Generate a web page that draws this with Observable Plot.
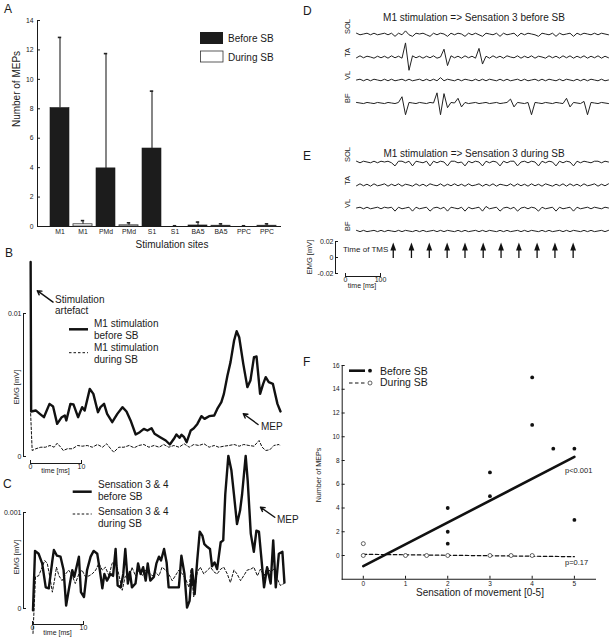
<!DOCTYPE html>
<html><head><meta charset="utf-8">
<script src="https://cdn.jsdelivr.net/npm/d3@7"></script>
<script src="https://cdn.jsdelivr.net/npm/@observablehq/plot@0.6"></script>
<style>
body{margin:0;background:#fff;}
#fig{position:relative;width:613px;height:639px;overflow:hidden;background:#fff;font-family:"Liberation Sans",Arial,Helvetica,sans-serif;color:#1a1a1a;}
</style></head><body><div id="fig"></div>
<script>
// ---------- Panel A: number of MEPs per stimulation site ----------
const sitesA = ["M1","M1","PMd","PMd","S1","S1","BA5","BA5","PPC","PPC"];
const phaseA = ["Before SB","During SB","Before SB","During SB","Before SB","During SB","Before SB","During SB","Before SB","During SB"];
const meanA  = [8.05, 0.15, 3.95, 0.08, 5.3, 0.0, 0.07, 0.05, 0.0, 0.05];
const sdA    = [4.8, 0.25, 7.8, 0.17, 3.9, 0.05, 0.23, 0.13, 0.05, 0.13];
const ticksA = [0, 2, 4, 6, 8, 10, 12, 14];

// ---------- Panel B: M1 stimulation EMG (time ms, EMG in 0.001 mV) ----------
const emgB_before = [[0,13.6],[0.1,3.15],[1.0,3.22],[1.8,2.98],[2.6,2.75],[3.7,3.68],[4.4,3.50],[5.2,2.28],[6.1,2.75],[6.7,2.87],[7.0,2.52],[7.8,3.68],[8.4,3.64],[9.3,2.75],[10.1,3.45],[10.6,3.22],[11.6,4.73],[12.3,4.38],[13.2,3.10],[13.7,3.45],[14.4,3.68],[15.0,2.98],[16.0,2.40],[17.0,2.98],[18.0,3.45],[18.8,3.15],[19.6,2.52],[20.6,1.54],[21.4,1.70],[22.2,1.93],[22.9,1.82],[23.7,1.98],[24.3,1.59],[25.4,1.35],[26.5,1.12],[27.3,0.84],[28.1,1.24],[28.6,1.54],[29.2,1.31],[29.6,1.52],[30.1,1.35],[30.6,1.00],[31.4,1.82],[32.0,1.98],[32.7,2.28],[33.5,2.82],[34.1,2.63],[35.0,2.82],[36.0,2.87],[36.6,3.33],[37.4,3.80],[37.9,4.38],[38.6,5.66],[39.2,6.60],[39.9,8.11],[40.4,8.76],[40.9,8.34],[41.7,6.48],[42.5,4.85],[43.1,5.31],[43.8,6.95],[44.3,6.99],[45.0,4.38],[45.6,5.08],[46.1,5.55],[46.7,5.20],[47.5,5.08],[48.4,3.68],[49.0,3.15]];
const emgB_during = [[0,3.0],[0.3,0.42],[1.0,0.54],[2.0,0.65],[2.9,0.65],[3.8,0.77],[4.6,0.65],[5.2,0.93],[5.9,0.65],[6.4,0.42],[7.2,0.54],[8.2,0.54],[9.2,0.77],[10.1,0.72],[11.1,0.77],[12.1,0.65],[13.1,0.84],[14.1,0.65],[14.9,0.89],[15.7,0.54],[16.3,0.30],[17.3,0.65],[18.3,0.65],[19.3,0.77],[20.3,0.61],[21.2,0.77],[22.2,0.84],[23.2,0.65],[24.2,0.77],[25.2,0.65],[26.1,0.84],[27.1,0.65],[28.1,0.77],[29.1,0.65],[30.1,0.89],[31.1,0.65],[32.0,0.84],[33.0,0.77],[34.0,0.89],[35.0,0.65],[36.0,0.77],[36.9,0.65],[37.9,0.72],[38.9,0.77],[39.9,0.84],[40.9,0.72],[41.8,0.84],[42.8,0.77],[43.8,0.72],[44.8,1.12],[45.4,0.65],[46.1,0.42],[46.9,0.47],[47.7,0.77],[48.7,0.84],[49.0,0.72]];
const arrowsB = [{x1: 4.4, y1: 10.8, x2: 1.3, y2: 11.6}, {x1: 44.6, y1: 2.24, x2: 41.7, y2: 2.99}];

// ---------- Panel C: sensation 3 & 4 EMG (time ms, EMG in 0.001 mV) ----------
const emgC_before = [[0.1,-0.02],[0.5,0.60],[1.2,0.57],[1.9,0.47],[2.6,0.22],[3.2,0.21],[3.9,0.50],[4.2,0.61],[4.8,0.55],[5.5,0.54],[6.1,0.40],[6.6,0.03],[7.1,0.19],[7.8,0.40],[8.2,0.33],[9.1,0.54],[9.5,0.17],[10.1,0.12],[10.7,0.40],[11.4,0.54],[12.0,0.60],[12.7,0.57],[13.2,0.40],[13.7,0.21],[14.1,0.36],[14.6,0.29],[15.3,0.36],[15.8,0.34],[16.3,0.62],[16.7,0.24],[17.3,0.22],[17.8,0.36],[18.2,0.62],[18.7,0.26],[19.1,0.38],[19.5,0.22],[20.2,0.26],[20.7,0.47],[21.2,0.36],[21.7,0.43],[22.2,0.29],[22.6,0.47],[23.1,0.29],[23.8,0.33],[24.3,0.47],[24.8,0.54],[25.2,0.50],[25.8,0.62],[26.3,0.48],[26.7,0.22],[27.4,0.22],[28.0,0.22],[28.7,0.22],[29.2,0.55],[29.8,0.36],[30.3,0.01],[30.8,0.08],[31.3,0.41],[31.8,0.15],[32.3,0.50],[32.8,0.80],[33.3,0.76],[33.7,0.67],[34.3,0.64],[34.8,0.62],[35.2,0.44],[35.7,0.48],[36.2,0.41],[36.9,0.69],[37.4,0.71],[37.8,1.19],[38.4,1.59],[39.0,1.44],[39.5,1.19],[40.1,0.88],[40.7,1.02],[41.1,1.19],[41.8,1.59],[42.2,1.33],[42.8,0.78],[43.4,0.59],[43.9,0.81],[44.4,0.80],[44.8,0.57],[45.4,0.22],[46.0,0.43],[46.7,0.26],[47.2,0.71],[47.7,0.22],[48.3,0.57],[49.0,0.59],[49.4,0.27]];
const emgC_during = [[0.1,-0.26],[0.6,0.33],[1.2,0.34],[1.9,0.43],[2.4,0.50],[2.9,0.47],[3.4,0.33],[3.9,0.17],[4.3,0.29],[4.7,0.43],[5.2,0.34],[5.8,0.29],[6.5,0.36],[7.1,0.40],[7.8,0.34],[8.4,0.26],[9.1,0.36],[9.7,0.40],[10.4,0.33],[11.1,0.34],[11.7,0.36],[12.4,0.40],[13.0,0.47],[13.7,0.40],[14.3,0.43],[15.0,0.34],[15.6,0.47],[16.3,0.50],[16.9,0.36],[17.6,0.19],[18.2,0.34],[18.9,0.29],[19.5,0.43],[20.2,0.34],[20.9,0.40],[21.5,0.34],[22.2,0.40],[22.8,0.38],[23.5,0.34],[24.1,0.38],[24.8,0.34],[25.4,0.43],[26.1,0.40],[26.7,0.36],[27.4,0.29],[28.0,0.34],[28.7,0.40],[29.4,0.36],[30.0,0.31],[30.7,0.22],[31.1,0.41],[31.6,0.12],[32.3,0.38],[32.9,0.43],[33.6,0.36],[34.3,0.40],[34.9,0.43],[35.6,0.38],[36.2,0.36],[36.9,0.41],[37.5,0.43],[38.2,0.36],[38.8,0.27],[39.5,0.40],[40.1,0.36],[40.8,0.29],[41.4,0.34],[42.1,0.40],[42.8,0.41],[43.4,0.43],[44.1,0.34],[44.7,0.41],[45.4,0.34],[46.0,0.43],[46.7,0.38],[47.3,0.41],[48.0,0.31],[48.6,0.24],[49.3,0.26]];
const arrowsC = [{x1: 47.5, y1: 0.95, x2: 44.7, y2: 1.055}];

// ---------- Panels D/E: raw EMG, one sample every 10 ms, values in 0.001 mV ----------
const channels = ["SOL","TA","VL","BF"];
const sampleMs = 10;
const D_SOL = [1,-1,0,1,-1,1,-1,0,1,-1, 1,-3,1,-1,4,-1,-3,1,0,1, -1,-3,1,-1,1,0,-3,1,-1,1, 0,-3,1,-1,1,-1,-3,1,0,-1, 1,-3,1,-1,0,1,-3,1,-1,1, 0,-1,-3,1,0,-1,1,-3,1,-1, 0,1,-3,1,-1,1,0,-1,1,-1, 1,0,-1];
const D_TA  = [-1,1.5,-1,1,0,-1.5,1,-1,1,-1.5, 1.5,-1,1,-1.5,18,-17,1.5,-1,1,-1.5, 1,-1,1.5,-1.5,0,10,-11,1.5,-1,1, -1.5,1.5,-1,1,-1.5,11,-9,1,-1.5,1.5, -1,1,-1.5,1.5,0,-1,1.5,-1.5,1,-1, 1.5,-1.5,1,0,-1.5,1.5,-1,1,-1.5,1.5, -1,1.5,-1.5,1,-1,1.5,-1.5,1,-1,1.5, -1.5,1,-1];
const D_VL  = [0,1,-1,1,-1,1,0,-1,1,-1, 1,-1,0,1,-1,1,-1,0,1,-1, 1,-1,1,-1,3,-1,1,0,-1,1, -1,1,0,-1,1,-1,1,-1,1,0, -1,1,-1,1,-1,0,1,-1,1,-1, 0,1,-1,1,-1,1,0,-1,1,-1, 1,0,-1,1,-1,1,-1,1,0,-1, 1,-1,0];
const D_BF  = [0.7,0,-0.7,0.7,0,-0.7,0.7,0,-0.7,0.7, 0,-0.7,0.7,8,-15,0.7,0,-0.7,0.7,0, -0.7,0.7,0,13,-15,12,-6,0.7,0,6, -5,0.7,-0.7,0,0.7,-0.7,0,0.7,-0.7,0, 0.7,-0.7,0,0.7,5,-5,0.7,0,-0.7,0.7, -15,0.7,0,-0.7,0.7,0,-0.7,0.7,0,-0.7, 6,-5,0.7,0,-0.7,2,-15,0.7,0,-0.7, 0.7,0,-0.7];
const E_SOL = [1,-1,1,0,-1,1,-1,1,0,1, -1,-5,1,1,-1,1,-5,1,0,-1, 1,-5,1,-1,1,0,-5,1,1,-1, 0,-5,1,-1,1,0,-5,1,-1,1, 0,-5,1,-1,1,1,-5,0,1,-1, 1,0,-5,1,-1,1,0,-5,1,-1, 1,0,-5,1,-1,1,0,-1,1,1, -1,1,0];
const E_TA  = [-1,1.5,-1,1,-1.5,1.5,-1,0,1.5,-1.5, 1,-1,1.5,-1.5,1,0,-1.5,1.5,-1,1, -1.5,1.5,0,-1,1.5,-1.5,1,-1,1.5,-1, 1,-1.5,1.5,-1,0,1.5,-1.5,1,-1,1.5, -1.5,1,0,-1,1.5,-1.5,1.5,-1,1,-1.5, 1.5,-1,1,-1.5,1.5,0,-1.5,1,-1,1.5, -1.5,1.5,-1,1,-1.5,1.5,-1,0,1.5,-1.5, 1,-1,1.5];
const E_VL  = [0,1,-1,1,-1,0,1,-1,1,0, 1,-4,1,-1,0,1,-4,1,-1,0, 1,-4,0,1,-1,1,-4,1,0,-1, 1,-4,1,-1,0,1,-4,2,-1,0, 1,-4,0,1,-1,1,-4,0,1,-1, 1,0,-4,1,-1,0,1,-4,1,-1, 0,1,-4,1,-1,0,1,-1,1,0, -1,1,0];
const E_BF  = [0.8,-0.8,0.8,-0.8,0,0.8,-0.8,0.8,-0.8,0.8, 0,-0.8,0.8,-0.8,0.8,0,-0.8,0.8,-0.8,0.8, -0.8,0,0.8,-0.8,0.8,-0.8,0.8,0,-0.8,0.8, -0.8,0.8,-0.8,0,0.8,-0.8,0.8,-0.8,0.8,0, -0.8,0.8,-0.8,0.8,-0.8,0,0.8,-0.8,0.8,-0.8, 0.8,0,-0.8,0.8,-0.8,0.8,-0.8,0,0.8,-0.8, 0.8,-0.8,0.8,0,-0.8,0.8,-0.8,0.8,-0.8,0, 0.8,-0.8,0.8];
const tmsTimes = [105, 157, 208, 259, 310, 362, 413, 464, 516, 567, 619];

// ---------- Panel F: MEPs vs sensation of movement ----------
const beforeF_x = [2, 2, 2, 3, 3, 4, 4, 4.5, 5, 5];
const beforeF_y = [4, 2, 1, 7, 5, 15, 11, 9, 9, 3];
const duringF_x = [0, 0, 1, 1.5, 2, 3, 3.5, 4];
const duringF_y = [1, 0, 0, 0, 0, 0, 0, 0];
const fitBefore = [[0, -0.9], [5, 8.3]];
const fitDuring = [[0, 0.1], [5, -0.1]];

// ================= drawing =================
const FONT = '"Liberation Sans", Arial, Helvetica, sans-serif';
const INK = "#1a1a1a";
const fig = document.getElementById("fig");
function mount(svg, left, top, fontSize) {
  Object.assign(svg.style, {position: "absolute", left: left + "px", top: top + "px", background: "none",
    overflow: "visible", fontFamily: FONT, fontSize: fontSize + "px", color: INK, maxWidth: "none"});
  fig.appendChild(svg);
}
const px = d => d[0], py = d => d[1];
const plain = d => String(d);

// Panel A
const tableA = sitesA.map((s, i) => ({id: String(i), site: s, phase: phaseA[i], mean: meanA[i], top: meanA[i] + sdA[i]}));
const plotA = Plot.plot({
  width: 300, height: 250, marginLeft: 37, marginRight: 20, marginTop: 20, marginBottom: 24,
  x: {type: "band", domain: tableA.map(d => d.id), paddingInner: 0.18, paddingOuter: 0.09, insetLeft: 9.3, insetRight: 0.3,
      tickSize: 0, tickPadding: 3, tickFormat: i => sitesA[+i], line: true, label: null},
  y: {domain: [0, 14], ticks: ticksA, tickFormat: plain, tickSize: -3, tickPadding: 7, line: true, label: null},
  marks: [
    Plot.barY(tableA.filter(d => d.phase === "Before SB"), {x: "id", y: "mean", fill: "#1c1c1c", stroke: "#1c1c1c", strokeWidth: 0.6}),
    Plot.barY(tableA.filter(d => d.phase === "During SB"), {x: "id", y: "mean", fill: "#fff", stroke: "#333", strokeWidth: 0.8}),
    Plot.ruleX(tableA, {x: "id", y1: "mean", y2: "top", stroke: "#222", strokeWidth: 1.1}),
    Plot.tickY(tableA, {x: "id", y: "top", stroke: "#222", strokeWidth: 1.6, insetLeft: 7.8, insetRight: 7.8})
  ]
});
mount(plotA, 0, 0, 6.8);

// Panel B
const plotB = Plot.plot({
  width: 300, height: 160, marginLeft: 23, marginRight: 14.9, marginTop: 13, marginBottom: 4,
  x: {domain: [-1.4, 50], axis: null},
  y: {domain: [0, 10], ticks: [0, 10], tickFormat: d => String(d / 1000), tickSize: -3, tickPadding: 5, line: true, label: null},
  marks: [
    Plot.line(emgB_during, {x: px, y: py, stroke: "#111", strokeWidth: 1, strokeDasharray: "2.5,2"}),
    Plot.line(emgB_before, {x: px, y: py, stroke: "#111", strokeWidth: 2.4, strokeLinejoin: "round"}),
    Plot.arrow(arrowsB, {x1: "x1", y1: "y1", x2: "x2", y2: "y2", stroke: "#111", strokeWidth: 1.4, headLength: 5})
  ]
});
mount(plotB, 0, 300, 7);

// Panel C
const plotC = Plot.plot({
  width: 300, height: 112, marginLeft: 23, marginRight: 13, marginTop: 12, marginBottom: 4,
  x: {domain: [-1.76, 50], axis: null},
  y: {domain: [0, 1], ticks: [0, 1], tickFormat: d => String(d / 1000), tickSize: -3, tickPadding: 5, line: true, label: null},
  marks: [
    Plot.line(emgC_during, {x: px, y: py, stroke: "#111", strokeWidth: 1, strokeDasharray: "2.5,2"}),
    Plot.line(emgC_before, {x: px, y: py, stroke: "#111", strokeWidth: 2.4, strokeLinejoin: "round"}),
    Plot.arrow(arrowsC, {x1: "x1", y1: "y1", x2: "x2", y2: "y2", stroke: "#111", strokeWidth: 1.4, headLength: 5})
  ]
});
mount(plotC, 0, 500, 7);

// time scale bars
function timeBar(maxMs, frameLeft, frameWidth) {
  return Plot.plot({
    width: frameLeft + frameWidth + 15, height: 20, marginLeft: frameLeft, marginRight: 15, marginTop: 6, marginBottom: 13,
    x: {domain: [0, maxMs], ticks: [0, maxMs], tickFormat: plain, tickSize: -3, tickPadding: 4, line: true, label: null},
    marks: [Plot.ruleX([0, maxMs], {strokeOpacity: 0})]
  });
}
mount(timeBar(10, 30, 51), 0, 456, 7);
mount(timeBar(10, 32, 51), 0, 617, 7);

// Panels D and E (faceted channels)
function traceTable(arrs) {
  return channels.flatMap((ch, k) => arrs[k].map((v, i) => ({ch, t: i * sampleMs, v})));
}
function emgPanel(arrs) {
  return Plot.plot({
    width: 313, height: 120, marginLeft: 56, marginRight: 5, marginTop: 21.25, marginBottom: 4.75,
    x: {domain: [0, 720], axis: null},
    y: {domain: [-14.7, 14.7], axis: null},
    fy: {domain: channels, padding: 0, axis: null},
    marks: [
      Plot.line(traceTable(arrs), {x: "t", y: "v", fy: "ch", stroke: "#222", strokeWidth: 1}),
      Plot.text(channels, {fy: d => d, text: d => d, frameAnchor: "left", dx: -9, rotate: -90, fontSize: 7.5, fill: INK})
    ]
  });
}
mount(emgPanel([D_SOL, D_TA, D_VL, D_BF]), 300, 0, 8);
mount(emgPanel([E_SOL, E_TA, E_VL, E_BF]), 300, 128, 8);

// Time of TMS arrows
const arrowHead = {draw(ctx) { ctx.moveTo(0, -6); ctx.lineTo(2.9, 2); ctx.lineTo(-2.9, 2); ctx.closePath(); }};
const plotTMS = Plot.plot({
  width: 313, height: 20, marginLeft: 56, marginRight: 5, marginTop: 8, marginBottom: 2,
  x: {domain: [0, 720], axis: null},
  marks: [
    Plot.tickX(tmsTimes, {x: d => d, stroke: "#111", strokeWidth: 1.3}),
    Plot.dot(tmsTimes, {x: d => d, frameAnchor: "top", symbol: arrowHead, fill: "#111", stroke: "none"})
  ]
});
mount(plotTMS, 300, 240, 8);

// EMG amplitude scale for D/E
const plotEscale = Plot.plot({
  width: 40, height: 50, marginLeft: 35, marginRight: 4, marginTop: 11, marginBottom: 7,
  y: {domain: [-0.02, 0.02], ticks: [-0.02, 0, 0.02], tickFormat: plain, tickSize: -3, tickPadding: 5, line: true, label: null},
  marks: [Plot.ruleY([-0.02, 0.02], {strokeOpacity: 0})]
});
mount(plotEscale, 300, 230, 7);
mount(timeBar(100, 45, 35), 300, 269, 7);

// Panel F
const ptsBefore = beforeF_x.map((x, i) => [x, beforeF_y[i]]);
const ptsDuring = duringF_x.map((x, i) => [x, duringF_y[i]]);
const plotF = Plot.plot({
  width: 313, height: 300, marginLeft: 41.7, marginRight: 18, marginTop: 65, marginBottom: 21.25,
  x: {domain: [-0.5, 5.5], ticks: [0, 1, 2, 3, 4, 5], tickFormat: plain, tickSize: -3, tickPadding: 5, line: true, label: null},
  y: {domain: [-2, 16], ticks: [0, 2, 4, 6, 8, 10, 12, 14, 16], tickFormat: plain, tickSize: -3, tickPadding: 5.5, line: true, label: null},
  marks: [
    Plot.line(fitDuring, {x: px, y: py, stroke: "#111", strokeWidth: 1.2, strokeDasharray: "3.5,2.5"}),
    Plot.line(fitBefore, {x: px, y: py, stroke: "#111", strokeWidth: 2.6}),
    Plot.dot(ptsDuring, {x: px, y: py, r: 2, fill: "#fff", stroke: "#222", strokeWidth: 0.7}),
    Plot.dot(ptsBefore, {x: px, y: py, r: 1.9, fill: "#111", stroke: "none"})
  ]
});
mount(plotF, 300, 300, 6.5);

// ---------- text annotations and legends ----------
const ov = d3.create("svg").attr("width", 613).attr("height", 639)
  .style("position", "absolute").style("left", "0px").style("top", "0px")
  .style("font-family", FONT).style("overflow", "visible");
function txt(x, y, s, size, anchor = "start", rot = 0) {
  ov.append("text").attr("transform", `translate(${x},${y}) rotate(${rot})`).attr("text-anchor", anchor)
    .attr("font-size", size).attr("fill", INK).text(s);
}
function seg(x1, x2, y, w, dash) {
  const l = ov.append("line").attr("x1", x1).attr("x2", x2).attr("y1", y).attr("y2", y).attr("stroke", "#111").attr("stroke-width", w);
  if (dash) l.attr("stroke-dasharray", dash);
}
// panel letters
txt(4, 13, "A", 12); txt(5, 257, "B", 12); txt(3, 488, "C", 12);
txt(303, 15, "D", 12); txt(303, 160, "E", 12); txt(303, 366, "F", 12);
// A
ov.append("rect").attr("x", 200).attr("y", 32).attr("width", 23).attr("height", 12).attr("fill", "#1c1c1c");
ov.append("rect").attr("x", 200.5).attr("y", 51).attr("width", 22.5).attr("height", 11).attr("fill", "#fff").attr("stroke", "#333").attr("stroke-width", 0.8);
txt(228, 41.5, "Before SB", 10); txt(228, 60.5, "During SB", 10);
txt(172, 248, "Stimulation sites", 10, "middle");
txt(20, 89, "Number of MEPs", 10, "middle", -90);
// B
txt(55, 302.5, "Stimulation", 10); txt(55, 314, "artefact", 10);
seg(69, 88, 329.3, 2.5);
txt(94, 327, "M1 stimulation", 10); txt(94, 339, "before SB", 10);
seg(69, 88, 352.7, 1, "2.5,2");
txt(94, 351, "M1 stimulation", 10); txt(94, 362.5, "during SB", 10);
txt(261, 430, "MEP", 10);
txt(18.5, 387, "EMG [mV]", 7.5, "middle", -90);
txt(55.5, 473, "time [ms]", 7, "middle");
// C
seg(72.7, 91.7, 491.7, 2.5);
txt(98, 488, "Sensation 3 & 4", 10); txt(98, 499.5, "before SB", 10);
seg(72.7, 91.7, 514, 1, "2.5,2");
txt(98, 515, "Sensation 3 & 4", 10); txt(98, 526.5, "during SB", 10);
txt(277, 522.5, "MEP", 10);
txt(18.5, 557, "EMG [mV]", 7.5, "middle", -90);
txt(57.5, 635, "time [ms]", 7, "middle");
// D / E
txt(474, 20.5, "M1 stimulation => Sensation 3 before SB", 10, "middle");
txt(474, 157, "M1 stimulation => Sensation 3 during SB", 10, "middle");
txt(343, 252, "Time of TMS", 8);
txt(312, 257, "EMG [mV]", 7.5, "middle", -90);
txt(362, 287.5, "time [ms]", 7, "middle");
// F
seg(349, 365, 370.7, 2.6);
ov.append("circle").attr("cx", 370).attr("cy", 370.7).attr("r", 1.9).attr("fill", "#111");
seg(349, 365, 383, 1.2, "3.5,2.5");
ov.append("circle").attr("cx", 370).attr("cy", 383).attr("r", 2).attr("fill", "#fff").attr("stroke", "#222").attr("stroke-width", 0.7);
txt(380, 375, "Before SB", 10.5); txt(380, 386, "During SB", 10.5);
txt(565, 472.5, "p<0.001", 7.5); txt(565, 564.5, "p=0.17", 7.5);
txt(480, 596, "Sensation of movement [0-5]", 10, "middle");
txt(321, 475, "Number of MEPs", 7.2, "middle", -90);
fig.appendChild(ov.node());
</script></body></html>
